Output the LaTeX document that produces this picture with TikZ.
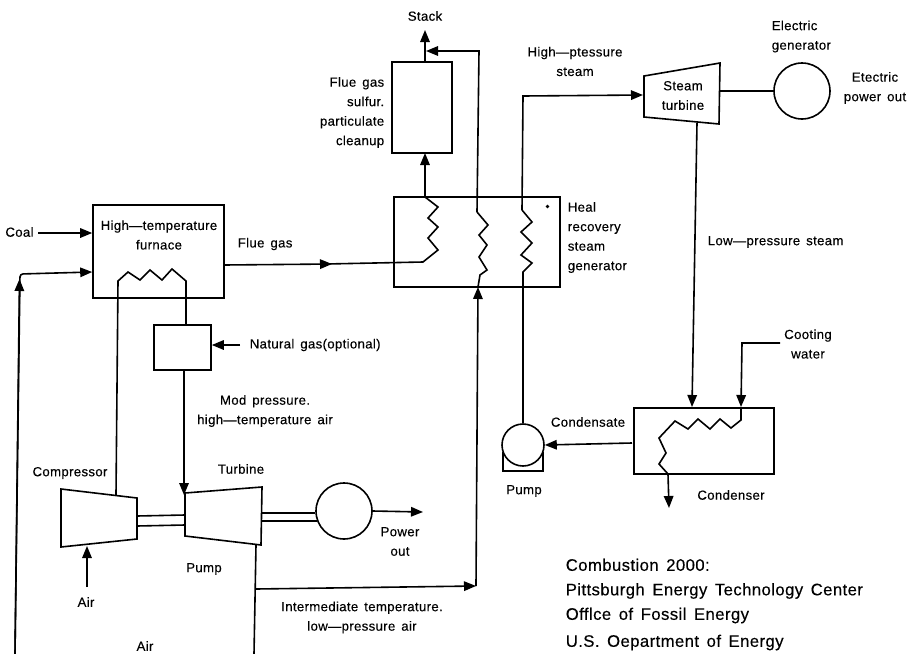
\documentclass[tikz,border=0pt]{standalone}
\usepackage{fontspec}
\setmainfont[LetterSpace=2.5,WordSpace=1.5,FakeBold=0.25]{Liberation Sans}
\usepackage{tikz}
\usetikzlibrary{arrows.meta}

\begin{document}
\begin{tikzpicture}[x=1pt,y=-1pt,>={Triangle[length=12pt,width=9.5pt]},line width=1.6pt,
                    font=\fontsize{13.2}{19.5}\selectfont,
                    lab/.style={inner sep=0pt,align=center},
                    labl/.style={inner sep=0pt,anchor=west,align=left},
                    labr/.style={inner sep=0pt,anchor=east,align=right},
                    block/.style={draw,inner sep=0pt,minimum width=#1},
                    gen/.style={draw,circle,inner sep=0pt,minimum size=#1}]
  \useasboundingbox (0,0) rectangle (914,654);
  % gas turbine side
  \node[block=131,minimum height=93] (furnace) at (158.5,251.5) {};
  \node[block=57,minimum height=45] (burner) at (182.5,347.5) {};
  \node[gen=56] (gen1) at (344,511) {};
  \coordinate (cp1) at (61,489);
  \coordinate (cp2) at (137,498);
  \coordinate (cp3) at (137,539);
  \coordinate (cp4) at (61,547);
  \coordinate (tb1) at (185,493);
  \coordinate (tb2) at (262,487);
  \coordinate (tb3) at (261,545);
  \coordinate (tb4) at (185,536);
  \draw (cp1)--(cp2)--(cp3)--(cp4)--cycle;
  \draw (tb1)--(tb2)--(tb3)--(tb4)--cycle;
  \draw (137,516)--(185,515) (137,526)--(185,525);
  \draw (262,513)--(gen1.west|-0,513) (262,521)--(317,521);
  % furnace coil
  \coordinate (fc1) at (116,495);
  \coordinate (fc2) at (118,281);
  \coordinate (fc3) at (186,281);
  \draw (fc1)--(fc2)--(128,272)--(140,280)--(150,270)--(162,280)--(172,269)--(fc3)--(burner.north-|fc3);
  \coordinate (air1) at (15,654);
  \coordinate (air2) at (19,288);
  \coordinate (air3) at (20,274);
  \coordinate (coal) at (38,233);
  \coordinate (ngas) at (240,345);
  \coordinate (airin) at (87,587);
  \coordinate (powout) at (423,512);
  \draw[->] (coal)--(furnace.west|-coal);
  \draw[rounded corners=3pt,->] (air1)--(air3)--(furnace.west|-0,272);
  \draw[->] (air1)--(19.5,279);
  \draw[->] (ngas)--(burner.east|-ngas);
  \draw[->] (184,370)--(184,495);
  \draw[->] (airin)--(87,546);
  \draw[->] (gen1.east)--(powout);
  % heat recovery generator
  \node[block=166,minimum height=90] (hrsg) at (477,242) {};
  \node[block=60,minimum height=91] (clean) at (422,107.5) {};
  \coordinate (flue1) at (224,265);
  \coordinate (flue2) at (332,264);
  \coordinate (flue3) at (423,262);
  \draw[->] (flue1)--(flue2);
  \draw (326,264)--(flue3)--(438,250)--(428,238)--(438,227)--(428,218)--(438,207)--(425,197);
  \draw[->] (425,197)--(425,153);
  \draw[->] (425,62)--(425,30);
  % intermediate air through the coil to the stack
  \coordinate (ia0) at (254,654);
  \coordinate (ia1) at (256,589);
  \coordinate (ia2) at (476,586);
  \coordinate (ia3) at (478,287);
  \coordinate (ia4) at (477,212);
  \coordinate (ia5) at (479,51);
  \draw (256,545)--(ia0);
  \draw[->] (ia1)--(ia2);
  \draw[->] (ia2)--(ia3);
  \draw (ia3)--(480,275)--(487,270)--(479,257)--(487,245)--(479,235)--(488,225)--(ia4);
  \draw[->] (ia4)--(ia5)--(426,51);
  % steam loop
  \node[gen=42] (pump) at (523,445) {};
  \node[gen=56] (gen2) at (802,91) {};
  \node[block=140,minimum height=66] (cond) at (704,441) {};
  \coordinate (st1) at (644,76);
  \coordinate (st2) at (720,63);
  \coordinate (st3) at (719,124);
  \coordinate (st4) at (644,117);
  \draw (st1)--(st2)--(st3)--(st4)--cycle;
  \coordinate (pb1) at (503,452);
  \coordinate (pb2) at (543,452);
  \draw (pb1)--(503,471)--(543,471)--(pb2);
  \coordinate (hp1) at (523,272);
  \coordinate (hp2) at (522,210);
  \coordinate (hp3) at (523,96);
  \draw (pump.north)--(hp1)--(532,263)--(521,255)--(532,243)--(521,232)--(532,222)--(hp2);
  \draw[->] (hp2)--(hp3)--(643,95);
  \draw (720,91)--(gen2.west);
  \coordinate (lp1) at (697,123);
  \draw[->] (lp1)--(692,407);
  \coordinate (cw1) at (780,343);
  \coordinate (cw2) at (742,343);
  \coordinate (cw3) at (741,407);
  \draw[->] (cw1)--(cw2)--(cw3);
  \draw (cw3)--(741,420)--(731,428)--(720,419)--(710,429)--(698,419)--(688,429)--(675,421)--(659,438)--(666,453)--(659,464)--(668,474);
  \draw[->] (668,474)--(669,508);
  \draw[->] (632,443)--(pump.east);
  \fill (547.5,206.5) circle (1.8);
  % labels
  \node[lab] (lcoal) at (19.5,232) {Coal};
  \node[lab] (lfurn) at (159,235) {High—temperature\\furnace};
  \node[labl] (lflue) at (237,244) {Flue gas};
  \node[labl] (lng) at (249,345) {Natural gas(optional)};
  \node[lab] (lmod) at (265,411) {Mod pressure.\\high—temperature air};
  \node[lab] (lcomp) at (70,473) {Compressor};
  \node[lab] (lturb) at (241,469) {Turbine};
  \node[lab] (lpow) at (400,541.5) {Power\\out};
  \node[lab] (lpump) at (204,569) {Pump};
  \node[lab] (lair) at (86,602) {Air};
  \node[lab] (lair2) at (145,646) {Air};
  \node[lab] (lint) at (362,617.5) {Intermediate temperature.\\low—pressure air};
  \node[lab] (lstack) at (425,16) {Stack};
  \node[labr] (lclean) at (385,112.5) {Flue gas\\sulfur.\\particulate\\cleanup};
  \node[labl] (lheat) at (567,237.5) {Heal\\recovery\\steam\\generator};
  \node[lab] (lhp) at (575,61.5) {High—ptessure\\steam};
  \node[lab] (lst) at (683,95.5) {Steam\\turbine};
  \node[labl] (lgen) at (771,36.5) {Electric\\generator};
  \node[lab] (lout) at (875,88) {Etectric\\power out};
  \node[labl] (llp) at (707,242) {Low—pressure steam};
  \node[lab] (lcw) at (808,344) {Cooting\\water};
  \node[lab] (lcs) at (588,422) {Condensate};
  \node[lab] (lpump2) at (524,491) {Pump};
  \node[lab] (lcd) at (731,495) {Condenser};
  \node[labl,font=\fontsize{16.7}{24.5}\selectfont] (lsrc) at (565,604.5) {Combustion 2000:\\Pittsburgh Energy Technology Center\\Offlce of Fossil Energy\\[2.5pt]U.S. Oepartment of Energy};
\end{tikzpicture}
\end{document}
